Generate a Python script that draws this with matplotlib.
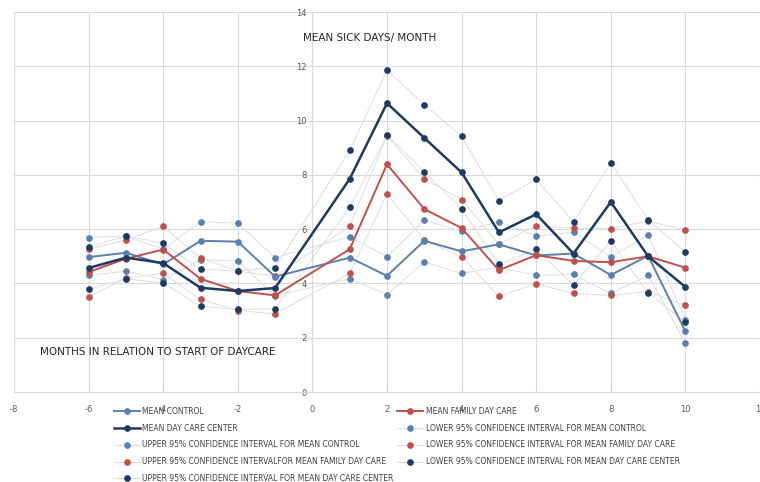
import numpy as np
import matplotlib.pyplot as plt
from matplotlib.lines import Line2D

# months relative to start of daycare (no point at 0)
months = [-6, -5, -4, -3, -2, -1, 1, 2, 3, 4, 5, 6, 7, 8, 9, 10]

mean_control = [4.97, 5.13, 4.70, 5.57, 5.54, 4.25, 4.95, 4.28, 5.57, 5.18, 5.44, 5.03, 5.10, 4.31, 5.02, 2.23]
upper_control = [5.69, 5.75, 5.26, 6.27, 6.22, 4.95, 5.72, 4.98, 6.33, 5.92, 6.27, 5.75, 5.88, 4.98, 5.78, 2.67]
lower_control = [4.30, 4.45, 4.14, 4.87, 4.83, 3.55, 4.17, 3.59, 4.79, 4.37, 4.60, 4.30, 4.33, 3.63, 4.30, 1.80]

mean_fdc = [4.42, 4.91, 5.25, 4.17, 3.72, 3.56, 5.26, 8.39, 6.74, 6.04, 4.49, 5.04, 4.83, 4.78, 5.00, 4.58]
upper_fdc = [5.26, 5.60, 6.10, 4.93, 4.45, 4.27, 6.10, 9.45, 7.85, 7.09, 5.45, 6.12, 6.04, 6.02, 6.30, 5.96]
lower_fdc = [3.49, 4.20, 4.37, 3.41, 3.00, 2.88, 4.37, 7.30, 5.60, 4.98, 3.53, 3.99, 3.63, 3.56, 3.70, 3.19]

mean_dcc = [4.57, 4.95, 4.75, 3.84, 3.72, 3.83, 7.85, 10.64, 9.36, 8.09, 5.88, 6.55, 5.10, 7.00, 5.00, 3.87]
upper_dcc = [5.34, 5.75, 5.48, 4.52, 4.46, 4.58, 8.90, 11.86, 10.59, 9.42, 7.05, 7.83, 6.27, 8.44, 6.35, 5.16]
lower_dcc = [3.78, 4.17, 4.02, 3.16, 3.04, 3.06, 6.80, 9.46, 8.12, 6.74, 4.70, 5.26, 3.93, 5.57, 3.65, 2.57]

c_control = '#5b80ad'
c_fdc = '#bf504d'
c_dcc = '#1f3a60'
c_ci = '#dedede'

plt.rcParams['font.family'] = ['Liberation Sans Narrow', 'DejaVu Sans']
plt.rcParams['axes.unicode_minus'] = False

fig = plt.figure(figsize=(7.6, 4.82), dpi=100)
ax = fig.add_axes([14 / 760, 90 / 482, 746 / 760, 380 / 482])

# --- confidence intervals: faint lines, coloured dots ---
ci = [
    (upper_control, c_control), (lower_control, c_control),
    (upper_fdc, c_fdc), (lower_fdc, c_fdc),
    (upper_dcc, c_dcc), (lower_dcc, c_dcc),
]
for vals, col in ci:
    ax.plot(months, vals, color=c_ci, lw=0.7, marker='o', ms=3.8,
            mfc=col, mec=col, zorder=2)

# --- means ---
ax.plot(months, mean_control, color=c_control, lw=1.4, marker='o', ms=3.8, zorder=3)
ax.plot(months, mean_fdc, color=c_fdc, lw=1.4, marker='o', ms=3.8, zorder=3)
ax.plot(months, mean_dcc, color=c_dcc, lw=1.8, marker='o', ms=3.8, zorder=4)

ax.set_xlim(-8, 12)
ax.set_ylim(0, 14)
ax.set_xticks(np.arange(-8, 13, 2))
ax.set_yticks(np.arange(0, 15, 2))
ax.grid(True, color='#d9d9d9', lw=0.8)
ax.set_axisbelow(True)

for s in ['top', 'right']:
    ax.spines[s].set_visible(False)
ax.spines['left'].set_position(('data', 0))
ax.spines['left'].set_color('#d9d9d9')
ax.spines['bottom'].set_color('#d9d9d9')
ax.tick_params(length=0, labelsize=6, labelcolor='#595959')
ax.tick_params(axis='x', pad=9)
ax.tick_params(axis='y', pad=4)

ax.text(-0.25, 12.95, 'MEAN SICK DAYS/ MONTH', fontsize=7.5, color='#262626')
ax.text(-7.3, 1.35, 'MONTHS IN RELATION TO START OF DAYCARE', fontsize=7.5, color='#262626')

def h(col, lw, lc=None):
    return Line2D([], [], color=lc or col, lw=lw, marker='o', ms=3.8, mfc=col, mec=col)

handles = [
    h(c_control, 1.4), h(c_dcc, 1.8), h(c_control, 0.8, c_ci),
    h(c_fdc, 0.8, c_ci), h(c_dcc, 0.8, c_ci),
    h(c_fdc, 1.4), h(c_control, 0.8, c_ci), h(c_fdc, 0.8, c_ci), h(c_dcc, 0.8, c_ci),
]
labels = [
    'MEAN CONTROL', 'MEAN DAY CARE CENTER',
    'UPPER 95% CONFIDENCE INTERVAL FOR MEAN CONTROL',
    'UPPER 95% CONFIDENCE INTERVALFOR MEAN FAMILY DAY CARE',
    'UPPER 95% CONFIDENCE INTERVAL FOR MEAN DAY CARE CENTER',
    'MEAN FAMILY DAY CARE',
    'LOWER 95% CONFIDENCE INTERVAL FOR MEAN CONTROL',
    'LOWER 95% CONFIDENCE INTERVAL FOR MEAN FAMILY DAY CARE',
    'LOWER 95% CONFIDENCE INTERVAL FOR MEAN DAY CARE CENTER',
]
fig.legend(handles, labels, ncol=2, loc='upper left', bbox_to_anchor=(110 / 760, 1 - 403 / 482),
           frameon=False, fontsize=5.5, labelcolor='#404040', handlelength=3.4,
           handletextpad=0.35, columnspacing=0.4, labelspacing=1.02, borderpad=0)

fig.savefig('out.png', dpi=100)
